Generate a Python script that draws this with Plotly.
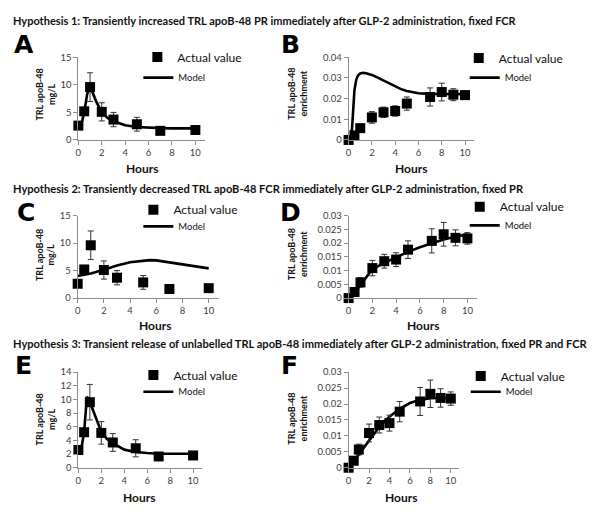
import plotly.graph_objects as go

# ---------------- data ----------------
conc_t = [0, 0.5, 1, 2, 3, 5, 7, 10]
conc_v = [2.6, 5.2, 9.6, 5.1, 3.7, 2.85, 1.65, 1.8]
conc_e = [0.3, 0.4, 2.6, 1.65, 1.3, 1.25, 0.3, 0.3]

enr_t = [0, 0.5, 1, 2, 3, 4, 5, 7, 8, 9, 10]
enr_v = [0.0, 0.0022, 0.0057, 0.0109, 0.0134, 0.0140, 0.0176, 0.0208, 0.0232, 0.0219, 0.0217]
enr_e = [0.0003, 0.0008, 0.0017, 0.0028, 0.0025, 0.0025, 0.0032, 0.0044, 0.0043, 0.0029, 0.0021]

modelA_t = [0, 0.25, 0.5, 0.75, 1, 1.5, 2, 2.5, 3, 4, 5, 6, 7, 8, 10]
modelA_v = [2.6, 2.8, 5.0, 8.3, 9.8, 7.1, 5.0, 4.0, 3.4, 2.65, 2.35, 2.2, 2.15, 2.1, 2.1]

modelB_t = [0, 0.2, 0.3, 0.4, 0.5, 0.65, 0.8, 1, 1.25, 1.5, 2, 2.5, 3, 3.5, 4, 4.5, 5, 5.5, 6, 7, 8, 10]
modelB_v = [0, 0.001, 0.006, 0.016, 0.024, 0.029, 0.0312, 0.0322, 0.0325, 0.0323, 0.0315, 0.0302,
            0.0288, 0.0272, 0.0258, 0.0246, 0.0237, 0.0230, 0.0226, 0.0223, 0.0222, 0.0222]

modelC_t = [0, 1, 2, 3, 4, 5, 5.5, 6, 7, 8, 9, 10]
modelC_v = [4.0, 4.45, 5.15, 5.9, 6.5, 6.85, 6.9, 6.85, 6.5, 6.05, 5.7, 5.4]

modelD_t = [0, 0.5, 1, 1.5, 2, 3, 4, 5, 6, 7, 8, 9, 10]
modelD_v = [0, 0.0018, 0.0048, 0.0078, 0.0105, 0.0128, 0.0148, 0.0168, 0.0185, 0.0200, 0.0213, 0.0224, 0.0231]

modelE_t = [0, 0.25, 0.5, 0.75, 1, 1.5, 2, 2.5, 3, 4, 5, 6, 7, 10]
modelE_v = [2.6, 2.7, 5.25, 10.4, 9.65, 7.4, 5.25, 4.2, 3.6, 2.65, 2.3, 2.15, 2.05, 2.05]

modelF_t = [0, 0.5, 1, 1.5, 2, 2.5, 3, 3.5, 4, 5, 6, 7, 8, 9, 10]
modelF_v = [0, 0.0017, 0.0042, 0.0064, 0.0086, 0.0108, 0.0128, 0.0145, 0.0160, 0.0185, 0.0203,
            0.0213, 0.0218, 0.0219, 0.0219]

x_ticks = [0, 2, 4, 6, 8, 10]
conc_ticks_15 = [0, 5, 10, 15]
conc_ticks_14 = [0, 2, 4, 6, 8, 10, 12, 14]
enr_ticks_04 = [0, 0.01, 0.02, 0.03, 0.04]
enr_ticks_03 = [0, 0.005, 0.01, 0.015, 0.02, 0.025, 0.03]
enr_ticktext_03 = ["0", "0.005", "0.01", "0.015", "0.02", "0.025", "0.03"]
enr_ticktext_04 = ["0", "0.01", "0.02", "0.03", "0.04"]

headings = [
    "Hypothesis 1: Transiently increased TRL apoB-48 PR immediately after GLP-2 administration, fixed FCR",
    "Hypothesis 2: Transiently decreased TRL apoB-48 FCR immediately after GLP-2 administration, fixed PR",
    "Hypothesis 3: Transient release of unlabelled TRL apoB-48 immediately after GLP-2 administration, fixed PR and FCR",
]
letters = ["A", "B", "C", "D", "E", "F"]
ytitle_conc = "TRL apoB-48<br>mg/L"
ytitle_enr = "TRL apoB-48<br>enrichment"
xtitle = "Hours"
legend_actual = "Actual value"
legend_model = "Model"

# ---------------- layout geometry (screen pixels) ----------------
W, H = 600, 512
OFF = 8  # page body margin
def px(xp):
    return (xp - OFF) / W
def py(yp):
    return 1 - (yp - OFF) / H

FONT = "Lato"
TXT = "#111111"
TICK = "#404040"
AXC = "#8c8c8c"

panels = [
    dict(t=conc_t, v=conc_v, e=conc_e, mt=modelA_t, mv=modelA_v, yr=15, tv=conc_ticks_15, tt=None,
         x0=75.7, ppu=11.76, ytop=52.3, ybot=136.7, ytitle=ytitle_conc,
         leg_a=(135, 57), leg_m=(136, 76), ttl=(42.5, 90), hrs=(140, 166), let=(21.5, 39)),
    dict(t=enr_t, v=enr_v, e=enr_e, mt=modelB_t, mv=modelB_v, yr=0.04, tv=enr_ticks_04, tt=enr_ticktext_04,
         x0=347.3, ppu=11.7, ytop=52.3, ybot=136.7, ytitle=ytitle_enr,
         leg_a=(458, 58), leg_m=(464, 76), ttl=(296, 90), hrs=(410, 166), let=(288.5, 39)),
    dict(t=conc_t, v=conc_v, e=conc_e, mt=modelC_t, mv=modelC_v, yr=15, tv=conc_ticks_15, tt=None,
         x0=75.0, ppu=13.17, ytop=214, ybot=298.3, ytitle=ytitle_conc,
         leg_a=(131, 213), leg_m=(136, 228), ttl=(42.5, 254), hrs=(153, 326), let=(23, 211)),
    dict(t=enr_t, v=enr_v, e=enr_e, mt=modelD_t, mv=modelD_v, yr=0.03, tv=enr_ticks_03, tt=enr_ticktext_03,
         x0=347.3, ppu=11.94, ytop=214, ybot=298.3, ytitle=ytitle_enr,
         leg_a=(459, 210), leg_m=(464, 227), ttl=(296, 254), hrs=(421.7, 326), let=(289, 211)),
    dict(t=conc_t, v=conc_v, e=conc_e, mt=modelE_t, mv=modelE_v, yr=14, tv=conc_ticks_14, tt=None,
         x0=75.7, ppu=11.53, ytop=374, ybot=471.7, ytitle=ytitle_conc,
         leg_a=(131, 382), leg_m=(136, 397), ttl=(42.5, 422), hrs=(136.7, 502), let=(21, 367)),
    dict(t=enr_t, v=enr_v, e=enr_e, mt=modelF_t, mv=modelF_v, yr=0.03, tv=enr_ticks_03, tt=enr_ticktext_03,
         x0=347.3, ppu=10.27, ytop=374, ybot=471.7, ytitle=ytitle_enr,
         leg_a=(460, 383), leg_m=(465, 397), ttl=(296, 422), hrs=(400, 502), let=(287.5, 367)),
]
XMAX = 10.8

fig = go.Figure()
layout = dict(
    width=W, height=H, margin=dict(l=0, r=0, t=0, b=0),
    paper_bgcolor="white", plot_bgcolor="white",
    font=dict(family=FONT, color=TXT),
    annotations=[],
)

for i, p in enumerate(panels):
    n = i + 1
    xa = "x" if n == 1 else f"x{n}"
    ya = "y" if n == 1 else f"y{n}"
    lg_a = f"legend{2*n}"
    lg_m = f"legend{2*n+1}"

    fig.add_trace(go.Scatter(
        x=p["mt"], y=p["mv"], mode="lines", name=legend_model,
        line=dict(color="black", width=2.6), xaxis=xa, yaxis=ya,
        legend=lg_m, cliponaxis=False, hoverinfo="skip"))
    fig.add_trace(go.Scatter(
        x=p["t"], y=p["v"], mode="markers", name=legend_actual,
        marker=dict(symbol="square", size=10, color="black"),
        error_y=dict(type="data", array=p["e"], visible=True, color="#333333", thickness=1, width=3),
        xaxis=xa, yaxis=ya, legend=lg_a, cliponaxis=False))

    x1 = p["x0"] + p["ppu"] * XMAX
    axis_common = dict(showgrid=False, zeroline=False, showline=True, linecolor=AXC, linewidth=1,
                       ticks="outside", ticklen=4, tickcolor=AXC, tickwidth=1,
                       tickfont=dict(family=FONT, size=9.5, color=TICK), fixedrange=True)
    layout["xaxis" if n == 1 else f"xaxis{n}"] = dict(
        axis_common, domain=[px(p["x0"]), px(x1)], range=[0, XMAX], anchor=ya,
        tickmode="array", tickvals=x_ticks)
    yax = dict(axis_common, domain=[py(p["ybot"]), py(p["ytop"])], range=[0, p["yr"]], anchor=xa,
               tickmode="array", tickvals=p["tv"])
    if p["tt"] is not None:
        yax["ticktext"] = p["tt"]
    layout["yaxis" if n == 1 else f"yaxis{n}"] = yax

    layout[lg_a] = dict(x=px(p["leg_a"][0]), y=py(p["leg_a"][1] - 5), xanchor="left", yanchor="middle",
                        bgcolor="rgba(0,0,0,0)", font=dict(family=FONT, size=12, color=TXT),
                        itemclick=False, itemdoubleclick=False)
    layout[lg_m] = dict(x=px(p["leg_m"][0]), y=py(p["leg_m"][1] - 3), xanchor="left", yanchor="middle",
                        bgcolor="rgba(0,0,0,0)", font=dict(family=FONT, size=9.5, color=TXT),
                        itemclick=False, itemdoubleclick=False)

    layout["annotations"].append(dict(
        text="<b>" + p["ytitle"].replace("<br>", "</b><br><b>") + "</b>",
        x=px(p["ttl"][0]), y=py(p["ttl"][1]), xref="paper", yref="paper",
        textangle=-90, showarrow=False, xanchor="center", yanchor="middle",
        font=dict(family=FONT, size=9, color=TXT), align="center"))
    layout["annotations"].append(dict(
        text="<b>" + xtitle + "</b>", x=px(p["hrs"][0]), y=py(p["hrs"][1]), xref="paper", yref="paper",
        showarrow=False, xanchor="center", yanchor="middle",
        font=dict(family=FONT, size=12, color=TXT)))
    layout["annotations"].append(dict(
        text="<b>" + letters[i] + "</b>", x=px(p["let"][0]), y=py(p["let"][1]), xref="paper", yref="paper",
        showarrow=False, xanchor="center", yanchor="middle",
        font=dict(family="DejaVu Sans", size=25, color="black")))

for h, yc, fs in zip(headings, [15, 186, 345], [11, 11.1, 11.1]):
    layout["annotations"].append(dict(
        text="<b>" + h + "</b>", x=px(8), y=py(yc), xref="paper", yref="paper",
        showarrow=False, xanchor="left", yanchor="middle",
        font=dict(family=FONT, size=fs, color=TXT)))

fig.update_layout(**layout)
fig.write_html("out.html", config={"displayModeBar": False})
